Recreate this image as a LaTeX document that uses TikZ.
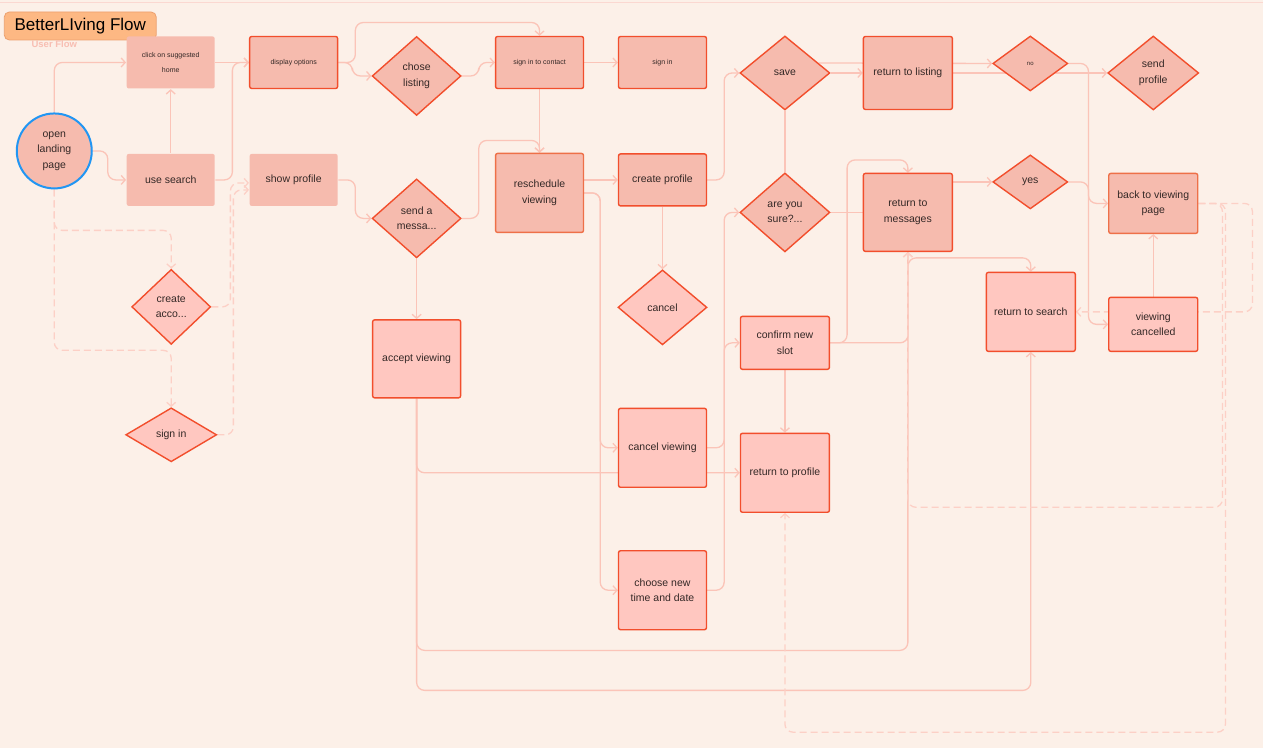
\documentclass[tikz,border=0pt]{standalone}
\usepackage{fontspec}
\setmainfont{Liberation Sans}
\usepackage{tikz}
\usetikzlibrary{arrows.meta,shapes.geometric,backgrounds}
\definecolor{bgc}{RGB}{252,240,232}
\definecolor{salm}{RGB}{246,187,174}
\definecolor{pinkl}{RGB}{255,199,192}
\definecolor{edge}{RGB}{242,78,44}
\definecolor{edgeb}{RGB}{238,112,72}
\definecolor{wire}{RGB}{251,196,184}
\definecolor{dwire}{RGB}{252,208,198}
\definecolor{ttl}{RGB}{253,184,131}
\definecolor{ttlb}{RGB}{236,160,110}
\definecolor{ink}{RGB}{52,40,38}
\definecolor{uf}{RGB}{248,190,178}
\definecolor{ring}{RGB}{33,150,243}
\begin{document}
\begin{tikzpicture}[x=1pt,y=-1pt,>={Straight Barb[length=4pt,width=9pt]},
bx/.style={rectangle,rounded corners=2pt,fill=salm,draw=edge,line width=1.4pt,
  minimum width=88pt,minimum height=52pt,align=center,text=ink,
  font=\fontsize{10.5}{15.5}\selectfont},
dm/.style={diamond,fill=salm,draw=edge,line width=1.4pt,inner sep=1pt,align=center,
  text=ink,font=\fontsize{10.5}{15.5}\selectfont},
lt/.style={fill=pinkl}, nb/.style={draw=none},
tiny/.style={font=\fontsize{7}{15}\selectfont},
w/.style={wire,line width=1.3pt,rounded corners=8pt},
d/.style={dwire,line width=1.3pt,rounded corners=8pt,dash pattern=on 7pt off 4pt}]
% title
\node[rectangle,rounded corners=5pt,fill=ttl,draw=ttlb,line width=0.8pt,minimum width=152pt,
  minimum height=28pt,font=\fontsize{17}{19}\selectfont,text=black] (title) at (80,26) {BetterLIving Flow};
\node[font=\bfseries\fontsize{9.5}{10}\selectfont,text=uf] (uflow) at (54,44) {User Flow};
% first columns
\node[circle,fill=salm,draw=ring,line width=2pt,minimum size=75pt,align=center,text=ink,
  font=\fontsize{10.5}{15.5}\selectfont] (land) at (54,151) {open\\landing\\page};
\node[bx,nb,tiny] (sugg) at (170.5,62.5) {click on suggested\\home};
\node[bx,nb] (srch) at (170.5,180) {use search};
\node[bx,tiny] (disp) at (293.5,62.5) {display options};
\node[bx,nb] (prof) at (293.5,180) {show profile};
\node[dm,lt,minimum width=79pt,minimum height=75pt] (cacc) at (171,307) {create\\acco...};
\node[dm,lt,minimum width=91pt,minimum height=54pt] (sind) at (171,435) {sign in};
\node[dm,minimum width=89pt,minimum height=79pt] (chose) at (416.5,76) {chose\\listing};
\node[dm,minimum width=89pt,minimum height=79pt] (msg) at (416.5,218.5) {send a\\messa...};
\node[bx,lt,minimum height=78pt] (acc) at (416.5,359) {accept viewing};
% middle
\node[bx,tiny] (sic) at (539.5,62.5) {sign in to contact};
\node[bx,tiny] (sgn) at (662.5,62.5) {sign in};
\node[bx,draw=edgeb,minimum height=79pt] (resch) at (539.5,193) {reschedule\\viewing};
\node[bx] (cprof) at (662.5,180) {create profile};
\node[dm,lt,minimum width=89pt,minimum height=75pt] (canc) at (662.5,307.5) {cancel};
\node[bx,lt,minimum height=79pt] (cview) at (662.5,448) {cancel viewing};
\node[bx,lt,minimum height=79pt] (cnew) at (662.5,590.5) {choose new\\time and date};
\node[dm,minimum width=90pt,minimum height=74pt] (save) at (785,73) {save};
\node[dm,minimum width=90pt,minimum height=79pt] (sure) at (785,212.5) {are you\\sure?...};
\node[bx,lt,minimum width=89pt,minimum height=53pt] (conf) at (785,343) {confirm new\\slot};
\node[bx,lt,minimum width=89pt,minimum height=79pt] (rprof) at (785,473) {return to profile};
% right
\node[bx,minimum width=89pt,minimum height=73pt] (rlist) at (908,73) {return to listing};
\node[bx,minimum width=89pt,minimum height=78pt] (rmsg) at (908,212.5) {return to\\messages};
\node[dm,minimum width=75pt,minimum height=55pt,font=\fontsize{6}{7}\selectfont] (no) at (1030.5,63.5) {no};
\node[dm,minimum width=75pt,minimum height=54pt] (yes) at (1030.5,182) {yes};
\node[dm,minimum width=91pt,minimum height=74pt] (sendp) at (1153.5,73) {send\\profile};
\node[bx,draw=edgeb,minimum width=89pt,minimum height=60pt] (back) at (1153.5,203.5) {back to viewing\\page};
\node[bx,lt,minimum width=89pt,minimum height=79pt] (rsrch) at (1031,312) {return to search};
\node[bx,lt,minimum width=89pt,minimum height=54pt] (vcan) at (1153.5,324.5) {viewing\\cancelled};
\begin{scope}[on background layer]
\fill[bgc] (0,0) rectangle (1263,748);
\draw[uf!60,line width=0.6pt] (0,2) -- (1263,2);
% solid flow
\draw[w,->] (land.north) |- (sugg.west);
\draw[w,->] (land.east) -- ++(15,0) |- (srch.west);
\draw[w,->] (srch.north) -- (sugg.south);
\draw[w,->] (srch.east) -- ++(17,0) |- (disp.west);
\draw[w,->] (sugg.east) -- (disp.west);
\draw[w,->] (disp.east) -- ++(14,0) |- (chose.west);
\draw[w,->] (disp.east) -- ++(17,0) -- ++(0,-40) -| (sic.north);
\draw[w,->] (chose.east) -- ++(17,0) |- (sic.west);
\draw[w,->] (sic.east) -- (sgn.west);
\draw[w,->] (sic.south) -- (resch.north);
\draw[w,->] (prof.east) -- ++(17,0) |- (msg.west);
\draw[w,->] (msg.east) -- ++(17,0) -- ++(0,-78) -| (resch.north);
\draw[w,->] (msg.south) -- (acc.north);
\draw[w,->] (resch.east |- cprof.west) -- (cprof.west);
\draw[w,->] (resch.east) -- ++(16,0) |- (cview.west);
\draw[w,->] (resch.east) -- ++(16,0) |- (cnew.west);
\draw[w,->] (cprof.south) -- (canc.north);
\draw[w,->] (cprof.east) -- ++(17,0) |- (save.west);
\draw[w,->] (cview.east) -- ++(17,0) |- (sure.west);
\draw[w,->] (cnew.east) -- ++(17,0) |- (conf.west);
\draw[w,->] (acc.south) |- (rprof.west);
\draw[w,->] (acc.south) -- ++(0,252) -| (rmsg.south);
\draw[w,->] (acc.south) -- ++(0,292) -| (rsrch.south);
\draw[w] (save.south) -- (sure.north);
\draw[w,->] (save.east) -- (rlist.west);
\draw[w,->] ([xshift=-12pt,yshift=10pt]save.east) -- (no.west);
\draw[w,->] (rlist.east) -- (sendp.west);
\draw[w] (sure.east) -- (rmsg.west);
\draw[w,->] (rmsg.east |- yes.west) -- (yes.west);
\draw[w,->] (conf.east) -- ++(17,0) -- ++(0,-183) -| (rmsg.north);
\draw[w,->] (conf.east) -- ++(78,0) -- ++(0,-85) -| (rsrch.north);
\draw[w,->] (conf.south) -- (rprof.north);
\draw[w,->] (no.east) -- ++(20,0) |- (vcan.west);
\draw[w,->] (yes.east) -- ++(20,0) |- (back.west);
\draw[w,->] (vcan.north) -- (back.south);
% dashed flow
\draw[d,->] (land.south) -- ++(0,41) -| (cacc.north);
\draw[d,->] (land.south) -- ++(0,161) -| (sind.north);
\draw[d,->] (cacc.east) -- ++(19,0) |- ([yshift=-3pt]prof.west);
\draw[d,->] (sind.east) -- ++(16,0) |- ([yshift=-10pt]prof.west);
\draw[d,->] (back.east) -- ++(27,0) -- ++(0,529) -| (rprof.south);
\draw[d,->] (back.east) -- ++(24,0) -- ++(0,304) -| (rmsg.south);
\draw[d,->] (back.east) -- ++(54,0) |- (rsrch.east);
\end{scope}
\end{tikzpicture}
\end{document}
